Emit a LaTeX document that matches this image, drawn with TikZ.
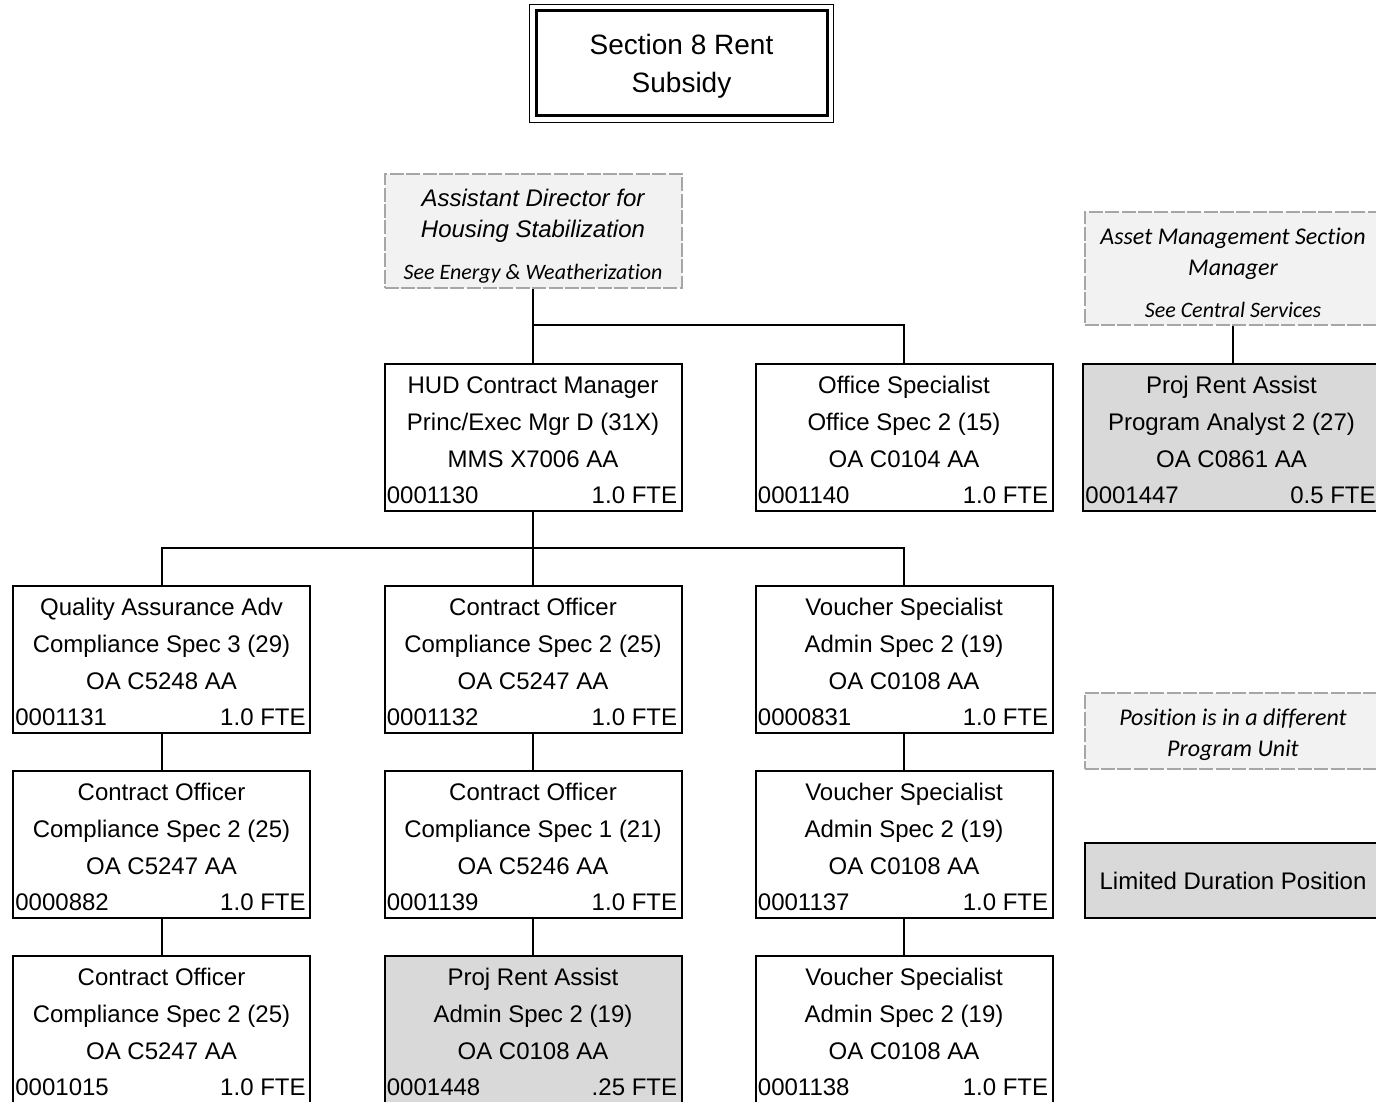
\documentclass[tikz,border=0pt]{standalone}
\usepackage{fontspec}
\setmainfont{Liberation Sans}
\newfontfamily\calib[Ligatures=NoCommon]{Carlito}
\usetikzlibrary{calc}

\definecolor{ldgray}{HTML}{D9D9D9}
\definecolor{seefill}{HTML}{F2F2F2}
\definecolor{seeline}{HTML}{A6A6A6}

\tikzset{
  posbox/.style={draw, line width=1pt, minimum width=148.5pt, minimum height=73.5pt, anchor=north, inner sep=0pt},
  seebox/.style={draw=seeline, fill=seefill, line width=1pt, dash pattern=on 7pt off 1.2pt, minimum width=148.5pt, anchor=north, inner sep=0pt},
  wire/.style={line width=1pt},
  txt/.style={anchor=base, inner sep=0pt, font=\fontsize{12}{14}\selectfont},
  ittxt/.style={anchor=base, inner sep=0pt, font=\fontsize{12}{14}\selectfont\itshape},
  seetxt/.style={anchor=base, inner sep=0pt, font=\calib\fontsize{12}{14}\selectfont\itshape},
  smalltxt/.style={anchor=base, inner sep=0pt, font=\calib\fontsize{11}{13}\selectfont\itshape},
}

% \posbox{name}{x}{top}{fill}{title}{class}{code}{number}{fte}
\newcommand{\posbox}[9]{%
  \node[posbox, fill=#4] (#1) at (#2,#3) {};
  \node[txt] (#1-a) at ([yshift=-15pt]#1.north) {#5};
  \node[txt] (#1-b) at ([yshift=-33.5pt]#1.north) {#6};
  \node[txt] (#1-c) at ([yshift=-52pt]#1.north) {#7};
  \node[txt, anchor=base west] (#1-n) at ([xshift=1.5pt,yshift=-70pt]#1.north west) {#8};
  \node[txt, anchor=base east] (#1-f) at ([xshift=-2.5pt,yshift=-70pt]#1.north east) {#9};
}

\begin{document}
\begin{tikzpicture}[x=0.5pt, y=-0.5pt]
\useasboundingbox (0,0) rectangle (1376,1102);
\clip (0,0) rectangle (1376,1102);

% title
\node[draw, line width=1.5pt, minimum width=145.5pt, minimum height=52.5pt] (sec8) at (681.5,63.5) {};
\node[align=center, inner sep=0pt, font=\fontsize{14}{19}\selectfont] (sec8-t) at ([yshift=-1.5pt]sec8.center) {Section 8 Rent\\Subsidy};
\draw[line width=0.9pt] ([shift={(-2.5pt,2.5pt)}]sec8.north west) rectangle ([shift={(2.5pt,-2.5pt)}]sec8.south east);

% positions in other units
\node[seebox, minimum height=57pt] (adhs) at (533,173) {};
\node[ittxt] (adhs-a) at ([yshift=-16.75pt]adhs.north) {Assistant Director for};
\node[ittxt] (adhs-b) at ([yshift=-32.25pt]adhs.north) {Housing Stabilization};
\node[smalltxt] (adhs-c) at ([yshift=-53pt]adhs.north) {See Energy \& Weatherization};

\node[seebox, minimum height=56.5pt] (asset) at (1233,211) {};
\node[seetxt] (asset-a) at ([yshift=-16.5pt]asset.north) {Asset Management Section};
\node[seetxt] (asset-b) at ([yshift=-32pt]asset.north) {Manager};
\node[smalltxt] (asset-c) at ([yshift=-53pt]asset.north) {See Central Services};

% row 1
\posbox{hudmgr}{533}{363}{white}{HUD Contract Manager}{Princ/Exec Mgr D (31X)}{MMS X7006 AA}{0001130}{1.0 FTE}
\posbox{offspec}{904}{363}{white}{Office Specialist}{Office Spec 2 (15)}{OA C0104 AA}{0001140}{1.0 FTE}
\posbox{prarpa}{1231.5}{363}{ldgray}{Proj Rent Assist}{Program Analyst 2 (27)}{OA C0861 AA}{0001447}{0.5 FTE}

% row 2
\posbox{qaadv}{161.5}{585}{white}{Quality Assurance Adv}{Compliance Spec 3 (29)}{OA C5248 AA}{0001131}{1.0 FTE}
\posbox{cofa}{533}{585}{white}{Contract Officer}{Compliance Spec 2 (25)}{OA C5247 AA}{0001132}{1.0 FTE}
\posbox{vsa}{904}{585}{white}{Voucher Specialist}{Admin Spec 2 (19)}{OA C0108 AA}{0000831}{1.0 FTE}

% row 3
\posbox{cofb}{161.5}{770}{white}{Contract Officer}{Compliance Spec 2 (25)}{OA C5247 AA}{0000882}{1.0 FTE}
\posbox{cofc}{533}{770}{white}{Contract Officer}{Compliance Spec 1 (21)}{OA C5246 AA}{0001139}{1.0 FTE}
\posbox{vsb}{904}{770}{white}{Voucher Specialist}{Admin Spec 2 (19)}{OA C0108 AA}{0001137}{1.0 FTE}

% row 4
\posbox{cofd}{161.5}{955}{white}{Contract Officer}{Compliance Spec 2 (25)}{OA C5247 AA}{0001015}{1.0 FTE}
\posbox{pra}{533}{955}{ldgray}{Proj Rent Assist}{Admin Spec 2 (19)}{OA C0108 AA}{0001448}{.25 FTE}
\posbox{vsc}{904}{955}{white}{Voucher Specialist}{Admin Spec 2 (19)}{OA C0108 AA}{0001138}{1.0 FTE}

% legend
\node[seebox, minimum height=38pt] (diffunit) at (1233,692) {};
\node[seetxt] (diffunit-a) at ([yshift=-16.5pt]diffunit.north) {Position is in a different};
\node[seetxt] (diffunit-b) at ([yshift=-32pt]diffunit.north) {Program Unit};
\node[draw, fill=ldgray, line width=1pt, minimum width=148.5pt, minimum height=37.5pt, font=\fontsize{12}{14}\selectfont] (limdur) at (1233,880.5) {Limited Duration Position};

% lines
\coordinate (topbus) at (533,325);
\coordinate (midbus) at (533,548);
\draw[wire] (adhs.south) -- (hudmgr.north);
\draw[wire] (topbus) -| (offspec.north);
\draw[wire] (hudmgr.south) -- (cofa.north);
\draw[wire] (qaadv.north) |- (midbus) -| (vsa.north);
\draw[wire] (asset.south) -- (asset.south |- prarpa.north);
\draw[wire] (qaadv.south) -- (cofb.north);
\draw[wire] (cofb.south) -- (cofd.north);
\draw[wire] (cofa.south) -- (cofc.north);
\draw[wire] (cofc.south) -- (pra.north);
\draw[wire] (vsa.south) -- (vsb.north);
\draw[wire] (vsb.south) -- (vsc.north);
\end{tikzpicture}
\end{document}
